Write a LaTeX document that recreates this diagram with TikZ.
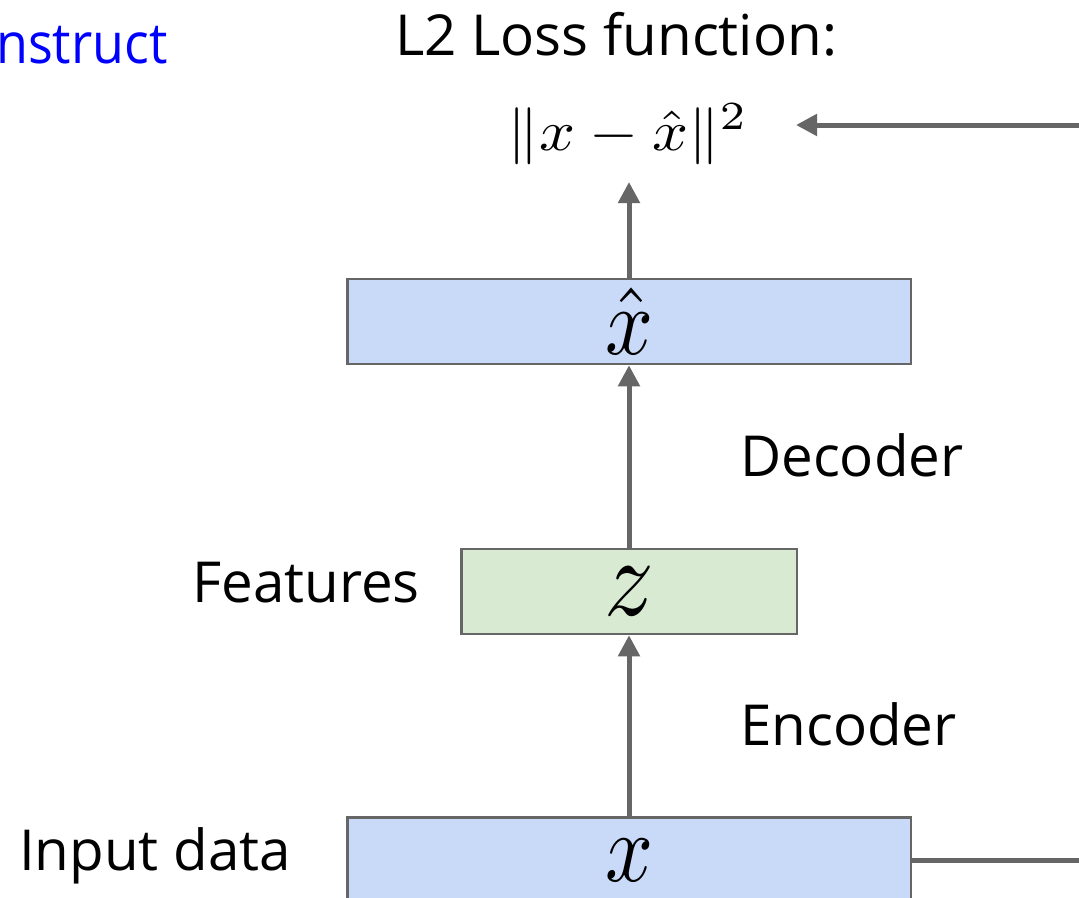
\documentclass[tikz,border=0pt]{standalone}
\usepackage{fontspec}
\setmainfont{Open Sans}
\usetikzlibrary{arrows.meta}
\definecolor{boxblue}{HTML}{C9DAF8}
\definecolor{boxgreen}{HTML}{D9EAD3}
\definecolor{edgegray}{HTML}{666666}
\begin{document}
\begin{tikzpicture}[x=1pt,y=-1pt,
  lbl/.style={font=\fontsize{56.5}{68}\selectfont, inner sep=0pt, anchor=base west},
  layer/.style={draw=edgegray, line width=2.5pt, inner sep=0pt, minimum height=85pt},
  arr/.style={draw=edgegray, line width=5pt, -{Triangle[length=21pt,width=21pt]}},
  ]
\useasboundingbox (0,0) rectangle (1079,897);
% boxes
\node[layer, fill=boxblue, minimum width=563.5pt] (xhat) at (629,321.5) {\scalebox{8.4}[9.6]{$\hat{x}$}};
\node[layer, fill=boxgreen, minimum width=335.5pt] (z) at (629,591.5) {\scalebox{9.8}[11.2]{$z$}};
\node[layer, fill=boxblue, minimum width=563.5pt] (xin) at (629,860) {\scalebox{8.4}[9.8]{$x$}};
% loss
\node[inner sep=0pt, anchor=base] (loss) at (628,150) {\scalebox{6.3}[5.7]{$\|x-\hat{x}\|^2$}};
% labels
\node[lbl] (feat) at (192,602) {Features};
\node[lbl] (inp) at (19,870) {Input data};
\node[lbl] (dec) at (740,476) {Decoder};
\node[lbl] (enc) at (740,745) {Encoder};
\node[lbl] (l2) at (395,55) {L2 Loss function:};
\node[lbl, text=blue] (rec) at (-4,63) {\scalebox{0.92}[1]{nstruct}};
% coordinates
\coordinate (losstip) at (629,182);
\coordinate (lossin) at (796,125);
\coordinate (turn) at (1120,125);
% connectors
\draw[arr] (xin.north) -- (z.south);
\draw[arr] (z.north) -- (xhat.south);
\draw[arr] (xhat.north) -- (losstip);
\draw[arr] (xin.east) -| (turn) -- (lossin);
\end{tikzpicture}
\end{document}
